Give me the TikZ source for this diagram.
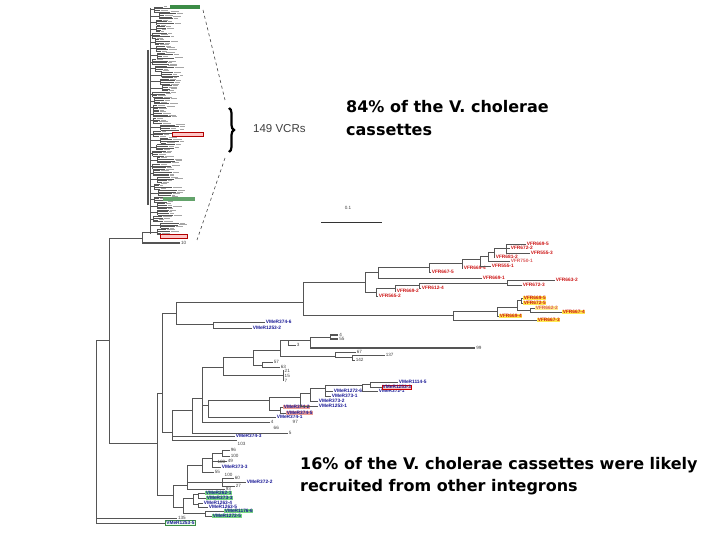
\documentclass[tikz,border=0pt]{standalone}
\usepackage{fontspec}
\setsansfont{Liberation Sans}
\newfontfamily\bigfont{DejaVu Sans}
\usetikzlibrary{decorations.pathreplacing}
\definecolor{vfrred}{RGB}{205,20,20}
\definecolor{vmeblue}{RGB}{25,25,150}
\definecolor{yhl}{RGB}{255,232,80}
\definecolor{pinkhl}{RGB}{238,160,150}
\definecolor{greenhl}{RGB}{120,215,130}
\definecolor{darkgreen}{RGB}{60,140,70}
\definecolor{linegray}{RGB}{85,85,85}
\tikzset{
  br/.style={draw=linegray, line width=0.7pt},
  thk/.style={draw=linegray, line width=1.7pt},
  lab/.style={font=\sffamily\bfseries\fontsize{4.8}{5}\selectfont, anchor=west, inner sep=0.5pt},
  vfr/.style={lab, text=vfrred},
  vme/.style={lab, text=vmeblue},
  num/.style={font=\sffamily\fontsize{4.6}{5}\selectfont, anchor=west, inner sep=0.5pt, text=black!75},
  big/.style={font=\bigfont\bfseries\fontsize{16}{20}\selectfont, anchor=base west, inner sep=0pt},
}
\newcommand\vl[3]{\draw[br] (#1,#2) -- (#1,#3);}
\newcommand\hl[3]{\draw[br] (#2,#1) -- (#3,#1);}
\newcommand\lf[5]{\draw[br] (#2,#1) -- (#3,#1) node[#4] {#5};}
\begin{document}
\begin{tikzpicture}[x=1pt,y=-1pt]
\useasboundingbox (0,0) rectangle (720,540);
\fill[white] (0,0) rectangle (720,540);

% ---------- top cluster (149 VCRs) ----------
\pgfmathsetseed{42}
\draw[br] (150,8) -- (150,234);
\draw[br,line width=1.4pt] (148,50) -- (148,205);
\foreach \c in {0,...,34}{
  \pgfmathsetmacro\yt{7+6.55*\c}
  \pgfmathsetmacro\xc{152+10*rnd}
  \pgfmathsetmacro\ym{\yt+2.5}
  \draw[br] (150,\ym) -- (\xc,\ym);
  \draw[br] (\xc,\yt) -- (\xc,\yt+5);
  \foreach \k in {0,1,2,3}{
    \pgfmathsetmacro\yl{\yt+1.66*\k}
    \pgfmathsetmacro\xe{\xc+3+16*rnd}
    \pgfmathsetmacro\tl{\xe+4+6*rnd}
    \draw[br,line width=0.6pt] (\xc,\yl) -- (\xe,\yl);
    \draw[black!35,line width=1pt] (\xe+1,\yl) -- (\tl,\yl);
  }
}
\node[fill=darkgreen, minimum width=30pt, minimum height=3.5pt, inner sep=0pt] (g1) at (185,7) {};
\node[fill=red!22, draw=red!70!black, line width=0.4pt, minimum width=31pt, minimum height=3.5pt, inner sep=0pt] (r1) at (188,134) {};
\node[fill=darkgreen!80, minimum width=32pt, minimum height=3.5pt, inner sep=0pt] (g2) at (179,199) {};
\node[fill=red!22, draw=red!70!black, line width=0.4pt, minimum width=27pt, minimum height=3.5pt, inner sep=0pt] (r2) at (174,236) {};
\vl{142}{232}{243}
\hl{232}{142}{150}
\draw[thk,line width=1.3pt] (142,243) -- (180,243) node[num] {10};
\hl{238}{109}{142}

% dashed lines and brace
\draw[dashed, black!75, line width=0.6pt] (203,10) -- (225,100);
\draw[dashed, black!75, line width=0.6pt] (225,158) -- (197,240);
\draw[decorate, decoration={brace, amplitude=5pt}, line width=2.2pt] (229,108) -- (229,152);
\node[font=\sffamily\fontsize{11.5}{12}\selectfont, text=black!75, anchor=west, inner sep=0pt] (vcr) at (253,129) {149 VCRs};

% scale bar
\draw[black!80, line width=0.8pt] (321,222) -- (382,222);
\node[num, anchor=center] (sc) at (348,208) {0.1};

% big texts
\node[big] (t1) at (346,113) {84\% of the V. cholerae};
\node[big] (t2) at (346,136) {cassettes};
\node[big] (t3) at (300,469) {16\% of the V. cholerae cassettes were likely};
\node[big] (t4) at (300,491) {recruited from other integrons};

% ---------- root ----------
\vl{96}{340}{523}
\hl{340}{96}{109}
\vl{109}{238}{443}
\draw[br,line width=1pt] (109,443) -- (157,443);
\draw[br,line width=1pt] (96,518) -- (177,518) node[num] {135};
\draw[br,line width=1pt] (96,523) -- (165,523) node[lab, text=vmeblue, draw=darkgreen, fill=green!8, inner sep=0.8pt] {VMeR1253-5};

% ---------- M1 / Q ----------
\vl{157}{393}{495}
\hl{393}{157}{162}
\vl{162}{313}{432}
\hl{313}{162}{176}
\vl{176}{302}{324}
\hl{302}{176}{303}
\hl{324}{176}{213}
\vl{213}{322}{328}
\lf{322}{213}{265}{vme}{VMeR374-6}
\lf{328}{213}{252}{vme}{VMeR1253-2}

% ---------- VFR clade ----------
\vl{303}{282}{315}
\hl{282}{303}{365}
\vl{365}{272}{292}
\hl{272}{365}{378}
\vl{378}{267}{278}
\lf{278}{378}{482}{vfr}{VFR669-1}
\hl{267}{378}{429}
\vl{429}{263}{272}
\lf{272}{429}{431}{vfr}{VFR667-5}
\hl{263}{429}{462}
\vl{462}{259}{268}
\lf{268}{462}{463}{vfr}{VFR669-4}
\hl{259}{462}{480}
\vl{480}{256}{266}
\lf{266}{480}{491}{vfr}{VFR555-1}
\hl{256}{480}{488}
\vl{488}{252}{261}
\lf{261}{488}{510}{vfr, text=vfrred!70}{VFR750-1}
\hl{252}{488}{494}
\vl{494}{248}{257}
\lf{257}{494}{495}{vfr}{VFR681-2}
\hl{248}{494}{506}
\vl{506}{244}{253}
\lf{244}{506}{526}{vfr}{VFR669-5}
\lf{248}{506}{510}{vfr}{VFR672-2}
\lf{253}{506}{530}{vfr}{VFR555-3}
% lower red part
\hl{292}{365}{376}
\vl{376}{288}{296}
\lf{296}{376}{378}{vfr}{VFR565-2}
\hl{288}{376}{395}
\vl{395}{285}{291}
\lf{291}{395}{396}{vfr}{VFR669-2}
\hl{285}{395}{419}
\vl{419}{283}{288}
\lf{288}{419}{421}{vfr}{VFR612-4}
\hl{283}{419}{507}
\vl{507}{280}{285}
\lf{280}{507}{555}{vfr}{VFR663-2}
\lf{285}{507}{522}{vfr}{VFR672-3}
% yellow part
\hl{315}{303}{453}
\vl{453}{311}{320}
\lf{320}{453}{537}{vfr, fill=yhl}{VFR667-3}
\hl{311}{453}{497}
\vl{497}{307}{316}
\lf{316}{497}{499}{vfr, fill=yhl}{VFR669-4}
\hl{307}{497}{517}
\vl{517}{300}{310}
\hl{300}{517}{521}
\vl{521}{298}{303}
\lf{298}{521}{523}{vfr, fill=yhl}{VFR669-5}
\lf{303}{521}{523}{vfr, fill=yhl}{VFR672-5}
\hl{310}{517}{530}
\vl{530}{308}{312}
\lf{308}{530}{535}{vfr, fill=yhl!60, text=vfrred!70}{VFR662-2}
\lf{312}{530}{562}{vfr, fill=yhl}{VFR667-4}

% ---------- VMeR / number clade ----------
\hl{432}{162}{172}
\vl{172}{410}{440}
\lf{436}{172}{235}{vme}{VMeR374-3}
\hl{440}{172}{237}
\node[num] (n103) at (237,444) {103};
\hl{410}{172}{192}
\vl{192}{398}{433}
\lf{433}{192}{288}{num}{5}
\hl{398}{192}{202}
\vl{202}{367}{422}
\lf{422}{202}{270}{num}{4}
\node[num] (n66) at (273,428) {66};
\node[num] (n97) at (292,422) {97};
\hl{367}{202}{223}
\vl{223}{357}{375}
\hl{357}{223}{253}
\vl{253}{350}{365}
\hl{350}{253}{280}
\vl{280}{340}{356}
\hl{340}{280}{288}
\vl{288}{340}{345}
\lf{345}{288}{296}{num}{3}
\hl{340}{288}{310}
\vl{310}{337}{348}
\hl{337}{310}{330}
\vl{330}{335}{339}
\draw[thk] (330,335) -- (338,335) node[num] {4};
\draw[thk] (330,339) -- (338,339) node[num] {55};
\draw[thk] (310,348) -- (475,348) node[num] {99};
\hl{356}{280}{335}
\vl{335}{352}{358}
\lf{352}{335}{356}{num}{67}
\hl{357}{335}{352}
\vl{352}{355}{360}
\lf{355}{352}{385}{num}{137}
\lf{360}{352}{355}{num}{142}
\hl{365}{253}{262}
\vl{262}{362}{367}
\lf{362}{262}{273}{num}{57}
\lf{367}{262}{280}{num}{63}
\hl{375}{223}{283}
\vl{283}{370}{381}
\node[num] (n21) at (284,371) {21};
\node[num] (n15) at (284,376) {15};
\node[num] (n7) at (284,381) {7};
% VMeR374 group
\hl{405}{202}{208}
\vl{208}{400}{417}
\lf{417}{208}{276}{vme}{VMeR374-1}
\hl{400}{208}{269}
\vl{269}{397}{410}
\hl{410}{269}{280}
\vl{280}{407}{413}
\lf{407}{280}{283}{vme, fill=pinkhl}{VMeR374-2}
\lf{413}{280}{286}{vme, fill=pinkhl}{VMeR374-5}
\hl{397}{269}{300}
\vl{300}{393}{406}
\lf{406}{300}{318}{vme}{VMeR1253-1}
\hl{393}{300}{310}
\vl{310}{388}{401}
\lf{401}{310}{318}{vme}{VMeR373-2}
\hl{388}{310}{325}
\vl{325}{385}{396}
\lf{396}{325}{331}{vme}{VMeR373-1}
\lf{391}{325}{333}{vme}{VMeR1272-6}
\hl{385}{325}{362}
\vl{362}{384}{391}
\lf{391}{362}{378}{vme}{VMeR372-1}
\hl{384}{362}{370}
\vl{370}{382}{387}
\lf{382}{370}{398}{vme}{VMeR1114-5}
\lf{387}{370}{382}{vme, fill=pinkhl!60, draw=red!80!black, line width=0.4pt}{VMeR1253-3}

% ---------- lower clade ----------
\hl{495}{157}{173}
\vl{173}{485}{507}
\hl{485}{173}{187}
\vl{187}{465}{489}
\lf{489}{187}{225}{num}{93}
\hl{465}{187}{202}
\vl{202}{458}{472}
\lf{472}{202}{214}{num}{55}
\hl{458}{202}{212}
\vl{212}{453}{467}
\lf{467}{212}{221}{vme}{VMeR373-3}
\lf{461}{212}{227}{num}{49}
\node[num, anchor=east] (n100a) at (226,462) {100};
\hl{453}{212}{222}
\vl{222}{450}{456}
\lf{450}{222}{230}{num}{96}
\lf{456}{222}{230}{num}{100}
\hl{482}{187}{222}
\vl{222}{478}{486}
\node[num] (n100b) at (224,474.5) {100};
\lf{478}{222}{234}{num}{60}
\lf{482}{222}{246}{vme}{VMeR372-2}
\lf{486}{222}{235}{num}{27}
\hl{507}{173}{183}
\vl{183}{498}{513}
\hl{498}{183}{193}
\vl{193}{494}{504}
\hl{494}{193}{198}
\vl{198}{493}{498}
\lf{493}{198}{205}{vme, fill=greenhl}{VMeR262-1}
\lf{498}{198}{206}{vme, fill=greenhl}{VMeR373-3}
\hl{504}{193}{198}
\vl{198}{503}{507}
\lf{503}{198}{203}{vme}{VMeR1263-4}
\lf{507}{198}{208}{vme}{VMeR1263-5}
\hl{513}{183}{205}
\vl{205}{511}{516}
\lf{511}{205}{224}{vme, fill=greenhl}{VMeR1176-6}
\lf{516}{205}{212}{vme, fill=greenhl}{VMeR1272-5}
\end{tikzpicture}
\end{document}
